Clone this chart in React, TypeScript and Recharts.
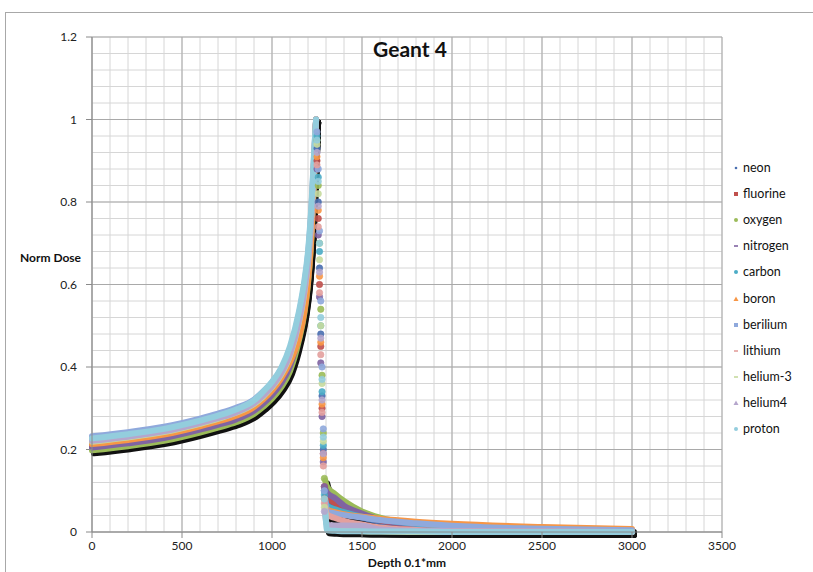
import React from "react";
import {
  ComposedChart,
  Line,
  XAxis,
  YAxis,
  CartesianGrid,
} from "recharts";

// depth grid (0.1*mm): entrance + build-up, distal fall-off, fragment tail
const depthsBody = [0, 200, 400, 600, 700, 800, 900, 950, 1000, 1050, 1100, 1150, 1180, 1200, 1220, 1235, 1245];
const depthsFall = [1250, 1257, 1264, 1271, 1278, 1285, 1291];
const depthsTail = [1296, 1306, 1350, 1400, 1500, 1600, 1800, 2000, 2500, 3000];

const neonBody = [0.203, 0.213, 0.226, 0.246, 0.258, 0.271, 0.292, 0.309, 0.33, 0.357, 0.399, 0.475, 0.542, 0.612, 0.732, 0.879, 1.0];
const neonFall = [0.93, 0.8, 0.64, 0.48, 0.33, 0.2, 0.1];
const neonTail = [0.09, 0.075, 0.06, 0.05, 0.035, 0.025, 0.014, 0.008, 0.003, 0.001];

const fluorineBody = [0.209, 0.219, 0.232, 0.252, 0.264, 0.278, 0.298, 0.316, 0.337, 0.366, 0.409, 0.488, 0.556, 0.626, 0.746, 0.889, 1.0];
const fluorineFall = [0.9, 0.76, 0.6, 0.45, 0.3, 0.19, 0.11];
const fluorineTail = [0.1, 0.085, 0.07, 0.056, 0.04, 0.028, 0.016, 0.01, 0.004, 0.001];

const oxygenBody = [0.198, 0.208, 0.221, 0.241, 0.253, 0.266, 0.286, 0.303, 0.323, 0.35, 0.39, 0.465, 0.53, 0.6, 0.72, 0.87, 1.0];
const oxygenFall = [0.95, 0.84, 0.7, 0.54, 0.38, 0.24, 0.13];
const oxygenTail = [0.125, 0.11, 0.092, 0.075, 0.05, 0.035, 0.02, 0.012, 0.005, 0.002];

const nitrogenBody = [0.205, 0.215, 0.228, 0.248, 0.26, 0.273, 0.294, 0.311, 0.332, 0.36, 0.402, 0.479, 0.546, 0.616, 0.736, 0.882, 1.0];
const nitrogenFall = [0.88, 0.72, 0.57, 0.41, 0.28, 0.17, 0.11];
const nitrogenTail = [0.105, 0.095, 0.082, 0.064, 0.045, 0.03, 0.018, 0.01, 0.004, 0.002];

const carbonBody = [0.215, 0.225, 0.238, 0.258, 0.27, 0.284, 0.305, 0.323, 0.345, 0.375, 0.42, 0.5, 0.57, 0.64, 0.76, 0.9, 1.0];
const carbonFall = [0.96, 0.86, 0.68, 0.5, 0.34, 0.21, 0.09];
const carbonTail = [0.075, 0.064, 0.055, 0.048, 0.037, 0.03, 0.02, 0.014, 0.006, 0.003];

const boronBody = [0.213, 0.223, 0.236, 0.256, 0.268, 0.282, 0.303, 0.321, 0.343, 0.372, 0.412, 0.47, 0.535, 0.605, 0.725, 0.875, 1.0];
const boronFall = [0.91, 0.78, 0.62, 0.46, 0.31, 0.18, 0.08];
const boronTail = [0.065, 0.055, 0.048, 0.043, 0.037, 0.032, 0.025, 0.02, 0.012, 0.007];

const beriliumBody = [0.232, 0.242, 0.255, 0.275, 0.287, 0.301, 0.321, 0.34, 0.363, 0.394, 0.444, 0.528, 0.602, 0.672, 0.792, 0.924, 1.0];
const beriliumFall = [0.97, 0.88, 0.73, 0.56, 0.4, 0.25, 0.1];
const beriliumTail = [0.08, 0.05, 0.045, 0.041, 0.035, 0.029, 0.021, 0.015, 0.008, 0.004];

const lithiumBody = [0.225, 0.235, 0.248, 0.268, 0.28, 0.295, 0.316, 0.335, 0.358, 0.39, 0.438, 0.521, 0.594, 0.664, 0.784, 0.918, 1.0];
const lithiumFall = [0.89, 0.74, 0.58, 0.43, 0.29, 0.16, 0.07];
const lithiumTail = [0.06, 0.042, 0.034, 0.027, 0.018, 0.011, 0.005, 0.002, 0.001, 0];

const helium3Body = [0.219, 0.229, 0.242, 0.262, 0.274, 0.289, 0.31, 0.328, 0.351, 0.381, 0.428, 0.509, 0.58, 0.65, 0.77, 0.908, 1.0];
const helium3Fall = [0.94, 0.82, 0.66, 0.5, 0.36, 0.22, 0.06];
const helium3Tail = [0.05, 0.012, 0.006, 0.004, 0.002, 0.001, 0, 0, 0, 0];

const helium4Body = [0.221, 0.231, 0.244, 0.264, 0.276, 0.29, 0.312, 0.33, 0.353, 0.384, 0.431, 0.512, 0.584, 0.654, 0.774, 0.911, 1.0];
const helium4Fall = [0.92, 0.79, 0.63, 0.47, 0.32, 0.19, 0.05];
const helium4Tail = [0.04, 0.017, 0.016, 0.016, 0.015, 0.006, 0.003, 0.002, 0.001, 0];

const protonBody = [0.227, 0.237, 0.25, 0.27, 0.282, 0.297, 0.319, 0.34, 0.364, 0.397, 0.45, 0.535, 0.61, 0.68, 0.8, 0.93, 1.0];
const protonFall = [0.95, 0.85, 0.7, 0.52, 0.37, 0.23, 0.08];
const protonTail = [0.05, 0.004, 0.003, 0.002, 0.002, 0.001, 0.001, 0, 0, 0];

const depthDomain = [0, 3500];
const doseDomain = [0, 1.2];
const depthTicks = [0, 500, 1000, 1500, 2000, 2500, 3000, 3500];
const depthMinorTicks = [
  0, 100, 200, 300, 400, 500, 600, 700, 800, 900, 1000, 1100, 1200, 1300, 1400, 1500, 1600, 1700,
  1800, 1900, 2000, 2100, 2200, 2300, 2400, 2500, 2600, 2700, 2800, 2900, 3000, 3100, 3200, 3300, 3400, 3500,
];
const doseTicks = [0, 0.2, 0.4, 0.6, 0.8, 1, 1.2];
const doseMinorTicks = [
  0, 0.04, 0.08, 0.12, 0.16, 0.2, 0.24, 0.28, 0.32, 0.36, 0.4, 0.44, 0.48, 0.52, 0.56, 0.6,
  0.64, 0.68, 0.72, 0.76, 0.8, 0.84, 0.88, 0.92, 0.96, 1, 1.04, 1.08, 1.12, 1.16, 1.2,
];

type Marker = "dot" | "square" | "circle" | "dash" | "triangle";

const series: { key: string; color: string; marker: Marker; body: number[]; fall: number[]; tail: number[] }[] = [
  { key: "neon", color: "#4a6fb0", marker: "dot", body: neonBody, fall: neonFall, tail: neonTail },
  { key: "fluorine", color: "#c0504d", marker: "square", body: fluorineBody, fall: fluorineFall, tail: fluorineTail },
  { key: "oxygen", color: "#9bbb59", marker: "circle", body: oxygenBody, fall: oxygenFall, tail: oxygenTail },
  { key: "nitrogen", color: "#8064a2", marker: "dash", body: nitrogenBody, fall: nitrogenFall, tail: nitrogenTail },
  { key: "carbon", color: "#4bacc6", marker: "circle", body: carbonBody, fall: carbonFall, tail: carbonTail },
  { key: "boron", color: "#f79646", marker: "triangle", body: boronBody, fall: boronFall, tail: boronTail },
  { key: "berilium", color: "#8fa9dc", marker: "square", body: beriliumBody, fall: beriliumFall, tail: beriliumTail },
  { key: "lithium", color: "#e3a09d", marker: "dash", body: lithiumBody, fall: lithiumFall, tail: lithiumTail },
  { key: "helium-3", color: "#c6da9f", marker: "dash", body: helium3Body, fall: helium3Fall, tail: helium3Tail },
  { key: "helium4", color: "#b5a6cc", marker: "triangle", body: helium4Body, fall: helium4Fall, tail: helium4Tail },
  { key: "proton", color: "#93cddd", marker: "circle", body: protonBody, fall: protonFall, tail: protonTail },
];

// one row per depth; fall-off points live in a separate key so they plot as markers only
const rows: any[] = [
  ...depthsBody.map((depth, i) => {
    const r: any = { depth };
    series.forEach((s) => {
      r[s.key] = s.body[i];
      r[s.key + "Fall"] = null;
    });
    return r;
  }),
  ...depthsFall.map((depth, i) => {
    const r: any = { depth };
    series.forEach((s) => {
      r[s.key] = null;
      r[s.key + "Fall"] = s.fall[i];
    });
    return r;
  }),
  ...depthsTail.map((depth, i) => {
    const r: any = { depth };
    series.forEach((s) => {
      r[s.key] = s.tail[i];
      r[s.key + "Fall"] = null;
    });
    return r;
  }),
];

// minor grid positions inside the plot box
const minorVertical = ({ xAxis, offset }: any) =>
  depthMinorTicks.map((t) =>
    xAxis && typeof xAxis.scale === "function"
      ? xAxis.scale(t)
      : offset.left + ((t - depthDomain[0]) / (depthDomain[1] - depthDomain[0])) * offset.width
  );
const minorHorizontal = ({ yAxis, offset }: any) =>
  doseMinorTicks.map((t) =>
    yAxis && typeof yAxis.scale === "function"
      ? yAxis.scale(t)
      : offset.top + offset.height - ((t - doseDomain[0]) / (doseDomain[1] - doseDomain[0])) * offset.height
  );

const FONT = "Lato, 'Open Sans', sans-serif";

const LegendMarker = ({ marker, color }: { marker: Marker; color: string }) => (
  <svg width={6} height={6} style={{ display: "block" }}>
    {marker === "dot" && <circle cx={3} cy={3} r={1.3} fill={color} />}
    {marker === "circle" && <circle cx={3} cy={3} r={2} fill={color} />}
    {marker === "square" && <rect x={1} y={1} width={4} height={4} fill={color} />}
    {marker === "dash" && <rect x={1} y={2.2} width={4} height={1.6} fill={color} />}
    {marker === "triangle" && <polygon points="3,0.5 5.5,5 0.5,5" fill={color} />}
  </svg>
);

export default function App() {
  return (
    <div
      style={{
        position: "absolute",
        left: 0,
        top: 0,
        width: 813,
        height: 572,
        background: "#fff",
        fontFamily: FONT,
        overflow: "hidden",
      }}
    >
      {/* chart frame */}
      <div
        style={{
          position: "absolute",
          left: 5,
          top: 12,
          width: 820,
          height: 580,
          borderTop: "1px solid #a8a8a8",
          borderLeft: "1px solid #a8a8a8",
        }}
      />
      <ComposedChart
        width={813}
        height={572}
        data={rows}
        margin={{ top: 37, right: 91, bottom: 10, left: 0 }}
        style={{ position: "absolute", left: 0, top: 0 }}
      >
        {/* minor grid every 100 / 0.04 */}
        <CartesianGrid
          stroke="#d6d6d6"
          strokeWidth={1}
          verticalCoordinatesGenerator={minorVertical}
          horizontalCoordinatesGenerator={minorHorizontal}
        />
        {/* major grid */}
        <CartesianGrid stroke="#a9a9a9" strokeWidth={1} />

        <XAxis
          type="number"
          dataKey="depth"
          domain={depthDomain}
          ticks={depthTicks}
          height={30}
          tickSize={6}
          tickMargin={3}
          axisLine={{ stroke: "#8a8a8a" }}
          tickLine={{ stroke: "#8a8a8a" }}
          tick={{ fontSize: 12, fill: "#222", fontFamily: FONT }}
        />
        <YAxis
          type="number"
          domain={doseDomain}
          ticks={doseTicks}
          width={92}
          tickSize={6}
          tickMargin={9}
          axisLine={{ stroke: "#8a8a8a" }}
          tickLine={{ stroke: "#8a8a8a" }}
          tick={{ fontSize: 12, fill: "#222", fontFamily: FONT }}
        />

        {/* drop shadow: same scale, range nudged right/down */}
        <XAxis xAxisId="sx" type="number" dataKey="depth" domain={depthDomain} padding={{ left: 2, right: -2 }} hide />
        <YAxis yAxisId="sy" type="number" domain={doseDomain} padding={{ top: 3, bottom: -3 }} hide />

        {series.map((s) => (
          <Line
            key={s.key + "-shadow"}
            xAxisId="sx"
            yAxisId="sy"
            dataKey={s.key}
            type="monotone"
            stroke="#111"
            strokeWidth={6}
            strokeLinecap="round"
            strokeLinejoin="round"
            dot={false}
            activeDot={false}
            legendType="none"
            isAnimationActive={false}
          />
        ))}

        {series.map((s) => (
          <Line
            key={s.key}
            dataKey={s.key}
            name={s.key}
            type="monotone"
            stroke={s.color}
            strokeWidth={6}
            strokeLinecap="round"
            strokeLinejoin="round"
            dot={false}
            activeDot={false}
            isAnimationActive={false}
          />
        ))}

        {series.map((s) => (
          <Line
            key={s.key + "-fall"}
            dataKey={s.key + "Fall"}
            stroke="none"
            strokeWidth={0}
            dot={{ r: 3.2, fill: s.color, stroke: s.color, strokeWidth: 0.6, fillOpacity: 0.9 }}
            activeDot={false}
            legendType="none"
            isAnimationActive={false}
          />
        ))}
      </ComposedChart>

      {/* title and axis titles */}
      <div
        style={{
          position: "absolute",
          left: 310,
          width: 200,
          top: 36,
          textAlign: "center",
          fontWeight: 700,
          fontSize: 21,
          color: "#111",
        }}
      >
        Geant 4
      </div>
      <div style={{ position: "absolute", left: 20, top: 250, fontWeight: 700, fontSize: 12, color: "#111" }}>
        Norm Dose
      </div>
      <div
        style={{
          position: "absolute",
          left: 307,
          width: 200,
          top: 555,
          textAlign: "center",
          fontWeight: 700,
          fontSize: 12,
          color: "#111",
        }}
      >
        Depth 0.1*mm
      </div>

      {/* legend */}
      <div style={{ position: "absolute", left: 733, top: 155 }}>
        {series.map((s) => (
          <div key={s.key} style={{ display: "flex", alignItems: "center", height: 26.1 }}>
            <LegendMarker marker={s.marker} color={s.color} />
            <span style={{ marginLeft: 4, fontSize: 12.5, color: "#111", lineHeight: "16px" }}>{s.key}</span>
          </div>
        ))}
      </div>
    </div>
  );
}
